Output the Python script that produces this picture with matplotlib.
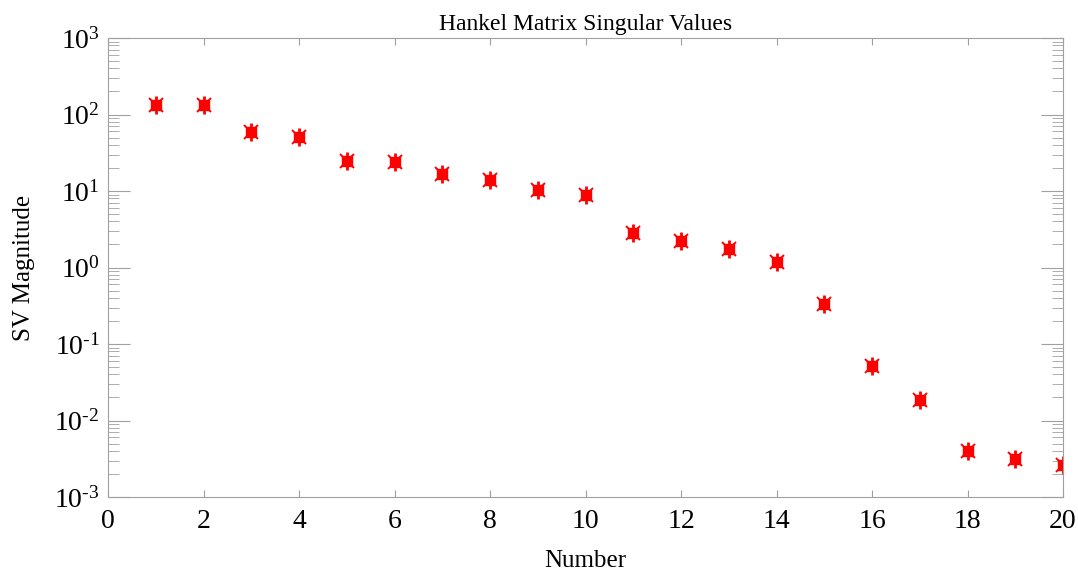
import math
import matplotlib
matplotlib.use('Agg')
import matplotlib.pyplot as plt
from matplotlib.ticker import FixedLocator, NullFormatter, FuncFormatter

plt.rcParams['font.family'] = ['Liberation Serif', 'DejaVu Serif']
plt.rcParams['mathtext.fontset'] = 'custom'
plt.rcParams['mathtext.rm'] = 'Liberation Serif'
plt.rcParams['mathtext.it'] = 'Liberation Serif'
plt.rcParams['mathtext.default'] = 'regular'

number = list(range(1, 21))
sv = [133, 133, 59, 51, 24.7, 24, 16.7, 13.9, 10.3, 8.9,
      2.8, 2.2, 1.75, 1.18, 0.333, 0.0515, 0.0185, 0.0040, 0.00314, 0.00262]
xticks = [0, 2, 4, 6, 8, 10, 12, 14, 16, 18, 20]
decades = [-3, -2, -1, 0, 1, 2, 3]


def sv_label(v, pos):
    e = int(round(math.log10(v)))
    return '$10^{\\text{%d}}$' % e


fig = plt.figure(figsize=(10.78, 5.75), dpi=100)
ax = fig.add_axes([108/1078, 1-497/575, 955/1078, 459/575])

# star-like red marker: square core + vertical bar + diagonal dots
ax.plot(number, sv, linestyle='none', marker='s', markersize=7, color='red')
ax.plot(number, sv, linestyle='none', marker='|', markersize=13, mew=2, color='red')
ax.plot(number, sv, linestyle='none', marker='x', markersize=10, mew=1.4, color='red')

ax.set_yscale('log')
ax.set_ylim(1e-3, 1e3)
ax.set_xlim(0, 20)
ax.xaxis.set_major_locator(FixedLocator(xticks))
ax.yaxis.set_major_locator(FixedLocator([10.0**e for e in decades]))
ax.yaxis.set_minor_locator(FixedLocator([k * 10.0**e for e in decades[:-1] for k in range(2, 10)]))
ax.yaxis.set_minor_formatter(NullFormatter())
ax.yaxis.set_major_formatter(FuncFormatter(sv_label))

for s in ax.spines.values():
    s.set_color('#a0a0a0')
ax.tick_params(axis='both', which='both', direction='in', colors='#a0a0a0',
               labelcolor='black', labelsize=20)
ax.tick_params(axis='y', which='both', left=True, right=True, pad=6)
ax.tick_params(axis='y', which='major', length=16)
ax.tick_params(axis='y', which='minor', length=8)
ax.tick_params(axis='x', which='major', length=5, top=True, pad=9)

ax.set_title('Hankel Matrix Singular Values', fontsize=17, pad=6)
ax.set_xlabel('Number', fontsize=18, labelpad=11)
ax.set_ylabel('SV Magnitude', fontsize=18, labelpad=14)

fig.savefig('out.png', dpi=100)
